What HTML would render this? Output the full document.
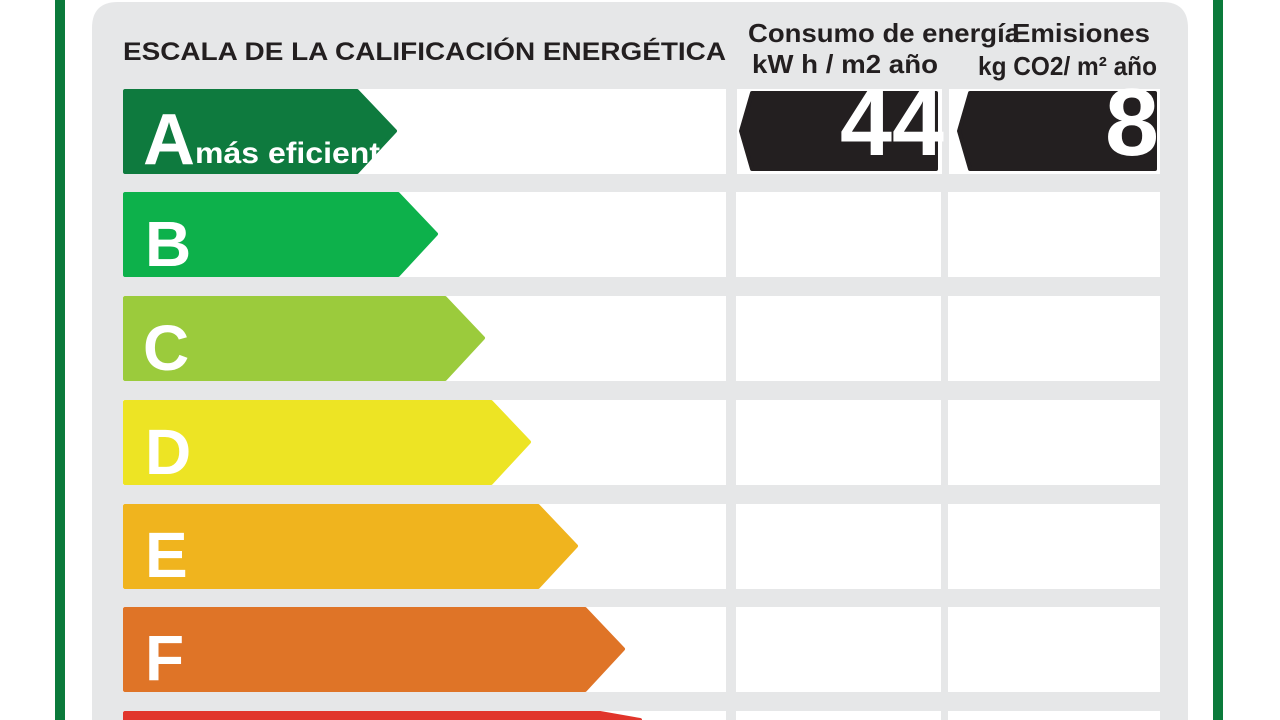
<!DOCTYPE html>
<html><head><meta charset="utf-8"><style>
html,body{margin:0;width:1280px;height:720px;overflow:hidden;background:#fff}
svg{display:block}
text{font-family:"Liberation Sans",Arial,sans-serif}
</style></head><body>
<svg width="1280" height="720" viewBox="0 0 1280 720">
<rect x="55" y="0" width="10" height="720" fill="#0b7a3b"/>
<rect x="1213" y="0" width="10" height="720" fill="#0b7a3b"/>
<path d="M92 720V28Q92 2 118 2H1162Q1188 2 1188 28V720Z" fill="#e6e7e8"/>
<text x="123" y="60" font-size="25" font-weight="bold" fill="#231f20" textLength="603" lengthAdjust="spacingAndGlyphs">ESCALA DE LA CALIFICACIÓN ENERGÉTICA</text>
<text x="748" y="42" font-size="26" font-weight="bold" fill="#231f20" textLength="272" lengthAdjust="spacingAndGlyphs">Consumo de energía</text>
<text x="752" y="73" font-size="26" font-weight="bold" fill="#231f20" textLength="186" lengthAdjust="spacingAndGlyphs">kW h / m2 año</text>
<text x="1012" y="42" font-size="26" font-weight="bold" fill="#231f20" textLength="138" lengthAdjust="spacingAndGlyphs">Emisiones</text>
<text x="978" y="75" font-size="26" font-weight="bold" fill="#231f20" textLength="179" lengthAdjust="spacingAndGlyphs">kg CO2/ m² año</text>
<g fill="#fff">
<rect x="123" y="89" width="603" height="85"/><rect x="737" y="89" width="205" height="85"/><rect x="949" y="89" width="211" height="85"/>
<rect x="123" y="192" width="603" height="85"/><rect x="736" y="192" width="205" height="85"/><rect x="948" y="192" width="212" height="85"/>
<rect x="123" y="296" width="603" height="85"/><rect x="736" y="296" width="205" height="85"/><rect x="948" y="296" width="212" height="85"/>
<rect x="123" y="400" width="603" height="85"/><rect x="736" y="400" width="205" height="85"/><rect x="948" y="400" width="212" height="85"/>
<rect x="123" y="504" width="603" height="85"/><rect x="736" y="504" width="205" height="85"/><rect x="948" y="504" width="212" height="85"/>
<rect x="123" y="607" width="603" height="85"/><rect x="736" y="607" width="205" height="85"/><rect x="948" y="607" width="212" height="85"/>
<rect x="123" y="711" width="603" height="20"/><rect x="736" y="711" width="205" height="20"/><rect x="948" y="711" width="212" height="20"/>
</g>
<g stroke-linejoin="round" stroke-width="4">
<path d="M125 91H357L395 131L357 172H125Z" fill="#0e7a3e" stroke="#0e7a3e"/>
<path d="M125 194H398L436 234L398 275H125Z" fill="#0db14b" stroke="#0db14b"/>
<path d="M125 298H445L483 338L445 379H125Z" fill="#9bcb3c" stroke="#9bcb3c"/>
<path d="M125 402H491L529 442L491 483H125Z" fill="#ede424" stroke="#ede424"/>
<path d="M125 506H538L576 546L538 587H125Z" fill="#f0b41e" stroke="#f0b41e"/>
<path d="M125 609H585L623 649L585 690H125Z" fill="#df7427" stroke="#df7427"/>
<path d="M125 713H600L640 720H125Z" fill="#e1352b" stroke="#e1352b"/>
<path d="M752 93H936V169H752L741 131Z" fill="#231f20" stroke="#231f20"/>
<path d="M970 93H1155V169H970L959 131Z" fill="#231f20" stroke="#231f20"/>
</g>
<g fill="#fff" font-weight="bold">
<text x="143" y="164" font-size="72">A</text>
<text x="195" y="163" font-size="30" textLength="185" lengthAdjust="spacingAndGlyphs">más eficient</text>
<text x="145" y="266" font-size="64">B</text>
<text x="143" y="370" font-size="64">C</text>
<text x="145" y="474" font-size="64">D</text>
<text x="145" y="577" font-size="64">E</text>
<text x="145" y="680" font-size="64">F</text>
<text x="840" y="155" font-size="96" textLength="104" lengthAdjust="spacingAndGlyphs">44</text>
<text x="1105" y="155" font-size="96" textLength="54" lengthAdjust="spacingAndGlyphs">8</text>
</g>
</svg>
</body></html>
